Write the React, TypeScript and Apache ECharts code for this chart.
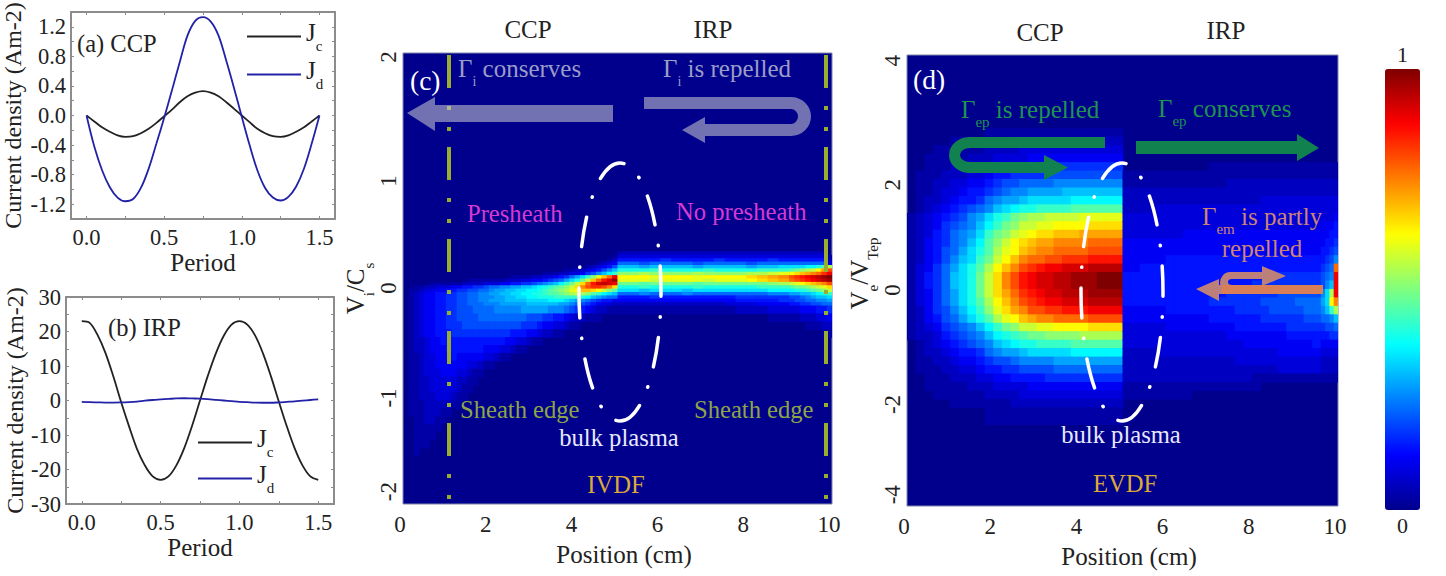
import React, { useEffect, useRef } from "react";
import * as echarts from "echarts";

const SERIF = '"Liberation Serif", "Times New Roman", serif';

const periods = [0, 0.05, 0.1, 0.15, 0.2, 0.25, 0.3, 0.35, 0.4, 0.45, 0.5, 0.55, 0.6, 0.65, 0.7, 0.75, 0.8, 0.85, 0.9, 0.95, 1, 1.05, 1.1, 1.15, 1.2, 1.25, 1.3, 1.35, 1.4, 1.45, 1.5];
const ccpJc = [0, -0.08, -0.16, -0.22, -0.27, -0.29, -0.28, -0.24, -0.18, -0.1, -0.01, 0.08, 0.18, 0.26, 0.31, 0.33, 0.31, 0.26, 0.18, 0.09, 0, -0.09, -0.18, -0.24, -0.28, -0.29, -0.27, -0.22, -0.16, -0.08, 0];
const ccpJd = [0, -0.42, -0.74, -0.97, -1.11, -1.16, -1.13, -0.98, -0.72, -0.38, -0.03, 0.34, 0.72, 1.08, 1.28, 1.33, 1.27, 1.08, 0.74, 0.37, -0.02, -0.4, -0.74, -0.98, -1.11, -1.15, -1.1, -0.96, -0.72, -0.38, 0];
const irpJc = [23, 22.5, 19, 13.8, 7, -0.5, -7.5, -14, -18.8, -22, -23, -22, -18.8, -13.8, -7.3, 0, 7.2, 13.6, 18.7, 22, 23, 22, 18.8, 13.6, 7, -0.3, -7.4, -13.8, -18.8, -22, -23];
const irpJd = [-0.4, -0.5, -0.55, -0.6, -0.6, -0.55, -0.45, -0.3, -0.05, 0.15, 0.3, 0.45, 0.6, 0.65, 0.6, 0.55, 0.4, 0.2, 0, -0.2, -0.4, -0.5, -0.6, -0.65, -0.65, -0.55, -0.4, -0.25, -0.05, 0.15, 0.35];

const periodLabels = [0, 0.5, 1, 1.5];
const periodTicks = [0, 0.25, 0.5, 0.75, 1, 1.25, 1.5];
const ccpLabels = [-1.2, -0.8, -0.4, 0, 0.4, 0.8, 1.2];
const ccpTicks = [-1.2, -1, -0.8, -0.6, -0.4, -0.2, 0, 0.2, 0.4, 0.6, 0.8, 1, 1.2];
const irpTicks = [-25, -20, -15, -10, -5, 0, 5, 10, 15, 20, 25];

const viLabelSpots = [-1.89, -1.06, -0.084, 0.865, 1.965];
const viLabels = ["-2", "-1", "0", "1", "2"];
const veLabelSpots = [-3.8, -2.2, -0.17, 1.7, 3.9];
const veLabels = ["-4", "-2", "0", "2", "4"];

const jet = ["#00008c", "#0000ff", "#007fff", "#00ffff", "#7fff7f", "#ffff00", "#ff7f00", "#ff0000", "#7f0000"];

/* Heat cells: one base-36 digit per cell, 0 = lowest, z = highest. */
const ivdfCols = [0, 0.125, 0.25, 0.375, 0.5, 0.625, 0.75, 0.875, 1, 1.125, 1.25, 1.375, 1.5, 1.625, 1.75, 1.875, 2, 2.125, 2.25, 2.375, 2.5, 2.625, 2.75, 2.875, 3, 3.125, 3.25, 3.375, 3.5, 3.625, 3.75, 3.875, 4, 4.125, 4.25, 4.375, 4.5, 4.625, 4.75, 4.875, 5, 5.25, 5.5, 5.75, 6, 6.25, 6.5, 6.75, 7, 7.25, 7.5, 7.75, 8, 8.25, 8.5, 8.75, 9, 9.125, 9.25, 9.375, 9.5, 9.625, 9.75, 9.875, 10];
const ivdfRowEdges = [0.24, 0.21, 0.18, 0.15, 0.12, 0.09, 0.06, 0.03, 0, -0.03, -0.06, -0.09, -0.12, -0.15, -0.18, -0.21, -0.24, -0.31, -0.38, -0.45, -0.52, -0.59, -0.66, -0.73, -0.8, -0.87, -0.94, -1.01, -1.08, -1.15, -1.22, -1.29, -1.36, -1.43, -1.5, -1.57];
const ivdfCcpRows = [
  "0000000000000000000000000000000000000000",
  "0000000000000000000000000000000000000001",
  "0000000000000000000000000000000000000012",
  "0000000000000000000000000000000000001234",
  "0000000000000000000000000000000000123457",
  "000000000000000000000000000000112234579b",
  "0000000000000000000000000011122334679bdf",
  "00000000000000000000111122334568acfilorv",
  "000000000000111111122233445678acehkoruwy",
  "000001111112222333445566789abdfhknruwxwv",
  "00112233344556678899aabbcdefghiknqsttsqn",
  "01123344556677889aabbccddefghijlmoonmkig",
  "0123445566778899aabbccddeefgghijkjigfdcb",
  "01234455667788999aabbccddeeefffffedba988",
  "0123445566778899aaabbbbccccdddcba9876554",
  "012344556677888999aaaaabbbbbbaa987654332",
  "0123445566777888899999aaaaa9998765432211",
  "0123445566777788888888877766554322111000",
  "0123445566677777777777666544332110000000",
  "0123445556666666666655544322110000000000",
  "0122344555555555555443321100000000000000",
  "0122344455555554443321100000000000000000",
  "0112334445444443321100000000000000000000",
  "0112334444443321100000000000000000000000",
  "0112333444332110000000000000000000000000",
  "0112233333221100000000000000000000000000",
  "0112233333211000000000000000000000000000",
  "0112223332110000000000000000000000000000",
  "0111222221100000000000000000000000000000",
  "0111222110000000000000000000000000000000",
  "0011221100000000000000000000000000000000",
  "0011111000000000000000000000000000000000",
  "0011110000000000000000000000000000000000",
  "0011100000000000000000000000000000000000",
  "0010000000000000000000000000000000000000",
];
const ivdfIrpRows = [
  "222222222222222222222220",
  "333333333333333333333331",
  "555565555655556555555552",
  "887888878888788888888883",
  "bbabbbbabbbbabbccccddegj",
  "eeefeeeefeeeefffghijkmps",
  "iijiiiijiiiijjklmnopqrtv",
  "mmmlmmmlmmmmnopqstuvwxyz",
  "lllkllllklllmnoprstuvwxy",
  "hhghhhhghhhhhhijklmnopqs",
  "eefeeeefeeeeefffghhijkln",
  "ccbcccbcccccccdddeefghik",
  "8898889888888899aabbcdef",
  "55565555555666667789abbc",
  "44444444444555566778899a",
  "222222222233344455667788",
  "111111111112223333444556",
  "000000000000001111222334",
  "000000000000000000011122",
  "000000000000000000000011",
];

const evdfCols = [0, 0.2, 0.4, 0.6, 0.8, 1, 1.2, 1.4, 1.6, 1.8, 2, 2.2, 2.4, 2.6, 2.8, 3, 3.2, 3.4, 3.6, 3.8, 4, 4.2, 4.4, 4.6, 4.8, 5, 5.2, 5.4, 5.6, 5.8, 6, 6.2, 6.4, 6.6, 6.8, 7, 7.2, 7.4, 7.6, 7.8, 8, 8.2, 8.4, 8.6, 8.8, 9, 9.2, 9.4, 9.6, 9.7, 9.8, 9.9, 10];
const evdfRowEdges = [2.7, 2.55, 2.4, 2.25, 2.1, 1.95, 1.8, 1.65, 1.5, 1.35, 1.2, 1.05, 0.9, 0.75, 0.6, 0.45, 0.3, 0.15, 0, -0.15, -0.3, -0.45, -0.6, -0.75, -0.9, -1.05, -1.2, -1.35, -1.5, -1.65, -1.8, -1.95, -2.1, -2.25, -2.4, -2.55];
const evdfCcpRows = [
  "0000000001111111111111111",
  "0000011111112222222222222",
  "0001111112222333333333333",
  "0011111222333344444444444",
  "0011122233445555666666666",
  "0111222334556666777777777",
  "0112233445677888899999999",
  "01123345567899aaaabbbbbbb",
  "01223455689aabcccccdddddd",
  "0123456789bcdeeffffgggggg",
  "12345679acefhijjkkkklllll",
  "12346789bdfhikkllmmmmnnnn",
  "1235689acfhiklmnnoooppppp",
  "1245689bdgikmnoppqqqqrrrr",
  "124578acegjlmopqqrrrrssss",
  "124579bcfhkmoqrrsstttuuuu",
  "13468acegjmoqstuvvwwwxxxx",
  "13568bcehknqsuvwwxxyyyzzz",
  "13568bcehknqsuvwwxxyyyzzz",
  "13468acehknprtuvwwxxxyyyy",
  "13468acegjmoqstuvvwwwxxxx",
  "124679bdfilnpqssttuuuvvvv",
  "124578acegjlmopqqrrrrssss",
  "12346789bdfhikkllmmmmnnnn",
  "122356789bdefghhiiiijjjjj",
  "0123456789bcdeeffffgggggg",
  "01223455689aabcccccdddddd",
  "01122344567789999aaaaaaaa",
  "0111223345566777788888888",
  "0011122233445555666666666",
  "0011111222333344444444444",
  "0001111112222333333333333",
  "0000011111112222222222222",
  "0000000001111111111111111",
  "0000000001111111111111111",
];
const evdfIrpRows = [
  "000000000000000000000000000",
  "000000000000000000000000000",
  "000000000000000000000000000",
  "000000000000000000000000000",
  "000000000011111111111111111",
  "111111111111111111111111111",
  "111111111111222222222222222",
  "222222222222222222222222222",
  "222222222222222233333333333",
  "222233333333333333333333333",
  "333333333333333333333333334",
  "333333333333333333333334445",
  "333333344444444444444444455",
  "444444444444444444444444556",
  "444444444444444444444445567",
  "444445555555555555555555679",
  "44555555555555555555555678r",
  "55555555555555555566666789v",
  "5555555555555556666666679bv",
  "555555555555666666777779cjv",
  "55555555556666667777888acmq",
  "444445555555566667777889bfj",
  "44444444445555556666677889b",
  "333334444444455555566666778",
  "333333333333444444455555566",
  "333333333333334444444454444",
  "222233333333333333444443333",
  "222222222222233333333332222",
  "222222222222222222333332222",
  "222222222222222111111111111",
  "111111111111111100000000000",
  "111111110000000000000000000",
];

const toCells = (cols: number[], edges: number[], rows: string[], from: number) => {
  const out: number[][] = [];
  rows.forEach((row, r) => {
    row.split("").forEach((ch, c) => {
      const level = parseInt(ch, 36);
      if (level > 0 && cols[from + c + 1] !== undefined) {
        out.push([cols[from + c], cols[from + c + 1], edges[r], edges[r + 1], level / 35]);
      }
    });
  });
  return out;
};

const ivdfCells = [...toCells(ivdfCols, ivdfRowEdges, ivdfCcpRows, 0), ...toCells(ivdfCols, ivdfRowEdges, ivdfIrpRows, 40)];
const evdfCells = [...toCells(evdfCols, evdfRowEdges, evdfCcpRows, 0), ...toCells(evdfCols, evdfRowEdges, evdfIrpRows, 25)];

const GRAY = "rgba(190,190,205,0.6)";
const GREEN = "#128150";
const ROSE = "#bd7f7a";
const ORANGE = "#d87f58";

const renderCell = (_: any, api: any) => {
  const a = api.coord([api.value(0), api.value(2)]);
  const b = api.coord([api.value(1), api.value(3)]);
  return {
    type: "rect",
    shape: { x: a[0], y: a[1], width: b[0] - a[0] + 0.7, height: b[1] - a[1] + 0.7 },
    style: { fill: api.visual("color") },
  };
};

const pair = (xs: number[], ys: number[]) => xs.map((x, i) => [x, ys[i]]);

const note = (x: number, y: number, text: string, fill: string, fontSize: number, textAlign = "left", rich?: any) => ({
  type: "text",
  x,
  y,
  z: 20,
  silent: true,
  style: { text, fill, fontSize, fontFamily: SERIF, textAlign, textVerticalAlign: "middle", rich },
});

const subRich = (fill: string, size: number, sub: number) => ({
  a: { fill, color: fill, fontSize: size, fontFamily: SERIF, verticalAlign: "top", lineHeight: size + 2 },
  s: { fill, color: fill, fontSize: sub, fontFamily: SERIF, verticalAlign: "bottom", lineHeight: size + 8 },
});

export default function App() {
  const ref = useRef<HTMLDivElement>(null);
  useEffect(() => {
    const R = echarts.graphic as any;
    R.registerShape("uGray", R.extendPath("M644 97 H791 A20 19.5 0 0 1 791 136 H705 V143 L682 130 L705 117 V124 H791 A7 7.5 0 0 0 791 109 H644 Z", {}));
    R.registerShape("uGreen", R.extendPath("M1105 137 H970 A21 18 0 0 0 970 173 H1044 V180 L1068 167.5 L1044 155 V162 H970 A10 7 0 0 1 970 148 H1105 Z", {}));
    R.registerShape("uRose", R.extendPath("M1262 272 H1230 A10 11 0 0 0 1230 294 H1240 V285 H1232 A4 3 0 0 1 1232 279 H1262 V286 L1286 276 L1262 266 Z", {}));
    const chart = echarts.init(ref.current!, null, { renderer: "svg" });

    const lineAxisText = { color: "#222", fontSize: 22.5, fontFamily: SERIF };
    const nameText = { color: "#222", fontSize: 25, fontFamily: SERIF };
    const frame = { onZero: false, lineStyle: { color: "#8c8c8c", width: 2 } };
    const tick = (vals: number[]) => ({ inside: true, length: 3, customValues: vals, lineStyle: { color: "#8c8c8c", width: 1 } });
    const bareX = (gridIndex: number, vals: number[]) => ({
      type: "value", gridIndex, position: "top", min: -0.1, max: 1.6,
      axisLine: frame, axisTick: tick(vals), axisLabel: { show: false }, splitLine: { show: false },
    });
    const bareY = (gridIndex: number, min: number, max: number, vals: number[]) => ({
      type: "value", gridIndex, position: "right", min, max,
      axisLine: frame, axisTick: tick(vals), axisLabel: { show: false }, splitLine: { show: false },
    });
    const periodAxis = (gridIndex: number) => ({
      type: "value", gridIndex, min: -0.1, max: 1.6,
      name: "Period", nameLocation: "middle", nameGap: 31, nameTextStyle: nameText,
      axisLine: frame, axisTick: tick(periodTicks), splitLine: { show: false },
      axisLabel: { ...lineAxisText, margin: 7, customValues: periodLabels, formatter: (v: number) => v.toFixed(1) },
    });
    const heatX = (gridIndex: number) => ({
      type: "value", gridIndex, min: 0, max: 10, interval: 2,
      name: "Position (cm)", nameLocation: "middle", nameGap: 38,
      nameTextStyle: { ...nameText, padding: [0, 0, 0, 13] },
      axisLine: { show: false }, axisTick: { show: false }, splitLine: { show: false },
      axisLabel: { ...lineAxisText, fontSize: 23, margin: 9, padding: [0, 6, 0, 0] },
    });
    const subName = {
      a: { fontSize: 25, fontFamily: SERIF, color: "#222", verticalAlign: "top", lineHeight: 27 },
      s: { fontSize: 15, fontFamily: SERIF, color: "#222", verticalAlign: "bottom", lineHeight: 33 },
    };
    const heatY = (gridIndex: number, min: number, max: number, spots: number[], labels: string[], name: string, nameGap: number, padding: number[]) => ({
      type: "value", gridIndex, min, max,
      name, nameLocation: "middle", nameGap, nameRotate: 90,
      nameTextStyle: { rich: subName, fontFamily: SERIF, padding },
      axisLine: { show: false }, axisTick: { show: false }, splitLine: { show: false },
      axisLabel: {
        ...lineAxisText, fontSize: 23, rotate: 90, margin: 3, customValues: spots,
        formatter: (v: number) => labels[spots.indexOf(v)] ?? "",
      },
    });
    const lineSeries = (name: string, color: string, ix: number, data: number[][]) => ({
      name, type: "line", xAxisIndex: ix, yAxisIndex: ix, data, showSymbol: false, symbol: "none",
      smooth: 0.35, lineStyle: { color, width: 1.8 }, itemStyle: { color }, clip: false,
    });
    const heatSeries = (name: string, ix: number, data: number[][], extra: any) => ({
      name, type: "custom", xAxisIndex: ix, yAxisIndex: ix, data, clip: true,
      coordinateSystem: "cartesian2d", encode: { x: [0, 1], y: [2, 3] }, renderItem: renderCell, silent: true, ...extra,
    });
    const legend = (left: number, top: number, itemGap: number) => ({
      left, top, padding: 0, orient: "vertical", icon: "rect", itemWidth: 54, itemHeight: 2, itemGap, selectedMode: false,
      data: ["Jc", "Jd"],
      formatter: (n: string) => `{a|J}{s|${n[1]}}`,
      textStyle: { rich: subName, fontFamily: SERIF },
    });

    chart.setOption({
      animation: false,
      backgroundColor: "#fff",
      textStyle: { fontFamily: SERIF },
      grid: [
        { left: 68, top: 12, width: 267, height: 207 },
        { left: 66, top: 297, width: 268, height: 207 },
        { left: 403, top: 53, width: 429, height: 451, show: true, backgroundColor: jet[0], borderColor: "#7f86a8", borderWidth: 1 },
        { left: 907, top: 55, width: 431, height: 451, show: true, backgroundColor: jet[0], borderColor: "#7f86a8", borderWidth: 1 },
      ],
      xAxis: [periodAxis(0), periodAxis(1), heatX(2), heatX(3), bareX(0, periodTicks), bareX(1, periodTicks)],
      yAxis: [
        {
          type: "value", gridIndex: 0, min: -1.4, max: 1.4,
          name: "Current density (Am-2)", nameLocation: "middle", nameGap: 46, nameTextStyle: { ...nameText, fontSize: 24 },
          axisLine: frame, axisTick: tick(ccpTicks), splitLine: { show: false },
          axisLabel: { ...lineAxisText, margin: 5, customValues: ccpLabels, formatter: (v: number) => v.toFixed(1) },
        },
        {
          type: "value", gridIndex: 1, min: -30, max: 30, interval: 10,
          name: "Current density (Am-2)", nameLocation: "middle", nameGap: 34, nameTextStyle: { ...nameText, fontSize: 24 },
          axisLine: frame, axisTick: tick(irpTicks), splitLine: { show: false },
          axisLabel: { ...lineAxisText, margin: 5 },
        },
        heatY(2, -2, 2, viLabelSpots, viLabels, "{a|V}{s|i}{a|/C}{s|s}", 20, [0, 20, 0, 0]),
        heatY(3, -4, 4, veLabelSpots, veLabels, "{a|V}{s|e}{a|/V}{s|Tep}", 14, [0, 0, 0, 14]),
        bareY(0, -1.4, 1.4, ccpTicks),
        bareY(1, -30, 30, irpTicks),
      ],
      legend: [legend(247, 20, 5), legend(198, 426, 3)],
      visualMap: {
        type: "continuous", min: 0, max: 1, dimension: 4, seriesIndex: [4, 5], padding: 0,
        calculable: false, hoverLink: false, itemWidth: 35, itemHeight: 441,
        left: 1385, top: 43, text: ["1", "0"], textGap: 4,
        textStyle: { color: "#222", fontSize: 22, fontFamily: SERIF },
        inRange: { color: jet },
      },
      series: [
        lineSeries("Jc", "#222222", 0, pair(periods, ccpJc)),
        lineSeries("Jd", "#2222a8", 0, pair(periods, ccpJd)),
        lineSeries("Jc", "#222222", 1, pair(periods, irpJc)),
        lineSeries("Jd", "#2222a8", 1, pair(periods, irpJd)),
        heatSeries("IVDF", 2, ivdfCells, {
          markLine: {
            silent: true, symbol: "none", label: { show: false }, animation: false,
            lineStyle: { color: "#9aad2e", width: 4, type: [33, 16, 4, 17, 4, 18], dashOffset: 43.5, opacity: 1 },
            data: [{ xAxis: 1.07 }, { xAxis: 9.86 }],
          },
        }),
        heatSeries("EVDF", 3, evdfCells, {}),
      ],
      graphic: [
        note(77, 43, "(a) CCP", "#222", 24.5),
        note(108, 327, "(b) IRP", "#222", 24.5),
        note(528, 29, "CCP", "#222", 25, "center"),
        note(713, 29, "IRP", "#222", 25, "center"),
        note(1040, 32, "CCP", "#222", 25, "center"),
        note(1226, 30, "IRP", "#222", 25, "center"),
        note(410, 80, "(c)", "#fff", 27.5),
        note(913, 79, "(d)", "#fff", 27.5),
        { type: "polygon", z: 15, silent: true, shape: { points: [[613, 105], [435, 105], [435, 97], [407, 113], [435, 131], [435, 122], [613, 122]] }, style: { fill: GRAY } },
        { type: "uGray", z: 15, silent: true, style: { fill: GRAY } },
        note(458, 72, "{a|Γ}{s|i}{a| conserves}", "#9a9dc8", 25, "left", subRich("#9a9dc8", 25, 14)),
        note(663, 72, "{a|Γ}{s|i}{a| is repelled}", "#9a9dc8", 25, "left", subRich("#9a9dc8", 25, 14)),
        note(467, 213, "Presheath", "#d63ad2", 24.6),
        note(676, 211, "No presheath", "#d63ad2", 24.6),
        note(460, 409, "Sheath edge", "#8da548", 24.6),
        note(694, 409, "Sheath edge", "#8da548", 24.6),
        note(619, 437, "bulk plasma", "#e8e8ff", 24.6, "center"),
        note(616, 484, "IVDF", "#dba93a", 24.6, "center"),
        { type: "uGreen", z: 15, silent: true, style: { fill: GREEN } },
        { type: "polygon", z: 15, silent: true, shape: { points: [[1136, 141], [1297, 141], [1297, 134], [1319, 148], [1297, 161], [1297, 154], [1136, 154]] }, style: { fill: GREEN } },
        { type: "polygon", z: 15, silent: true, shape: { points: [[1196, 289], [1219, 279], [1219, 285], [1240, 285], [1240, 294], [1219, 294], [1219, 301]] }, style: { fill: ROSE } },
        { type: "uRose", z: 15, silent: true, style: { fill: ROSE } },
        { type: "rect", z: 16, silent: true, shape: { x: 1222, y: 285, width: 101, height: 9 }, style: { fill: ORANGE } },
        note(961, 113, "{a|Γ}{s|ep}{a| is repelled}", "#1f9350", 25, "left", subRich("#1f9350", 25, 15)),
        note(1158, 112, "{a|Γ}{s|ep}{a| conserves}", "#1f9350", 25, "left", subRich("#1f9350", 25, 15)),
        note(1202, 220, "{a|Γ}{s|em}{a| is partly}", "#cc8474", 25, "left", subRich("#cc8474", 25, 15)),
        note(1262, 248, "repelled", "#cc8474", 25, "center"),
        note(1121, 434, "bulk plasma", "#e8e8ff", 24.6, "center"),
        note(1125, 483, "EVDF", "#dba93a", 24.6, "center"),
        { type: "ellipse", z: 18, silent: true, shape: { cx: 620, cy: 292, rx: 41, ry: 129 }, style: { fill: "none", stroke: "#fff", lineWidth: 3.5, lineCap: "round", lineDash: [30, 20.6, 0.5, 20.2], lineDashOffset: 26 } },
        { type: "ellipse", z: 18, silent: true, shape: { cx: 1122, cy: 292, rx: 41, ry: 129 }, style: { fill: "none", stroke: "#fff", lineWidth: 3.5, lineCap: "round", lineDash: [30, 20.6, 0.5, 20.2], lineDashOffset: 26 } },
      ],
    });
    return () => chart.dispose();
  }, []);
  return <div ref={ref} style={{ position: "fixed", left: 0, top: 0, width: 1446, height: 576, background: "#fff" }} />;
}
